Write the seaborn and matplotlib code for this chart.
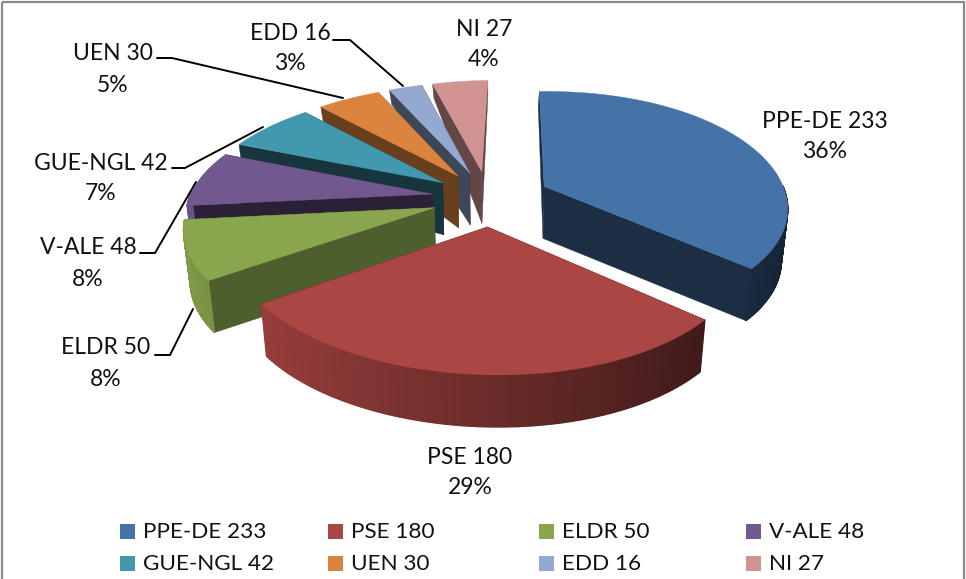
import numpy as np
import matplotlib
matplotlib.use('Agg')
import matplotlib.pyplot as plt
from matplotlib.patches import Rectangle
import seaborn as sns

groups = ['PPE-DE', 'PSE', 'ELDR', 'V-ALE', 'GUE-NGL', 'UEN', 'EDD', 'NI']
seats = [233, 180, 50, 48, 42, 30, 16, 27]
shares = ['36%', '29%', '8%', '8%', '7%', '5%', '3%', '4%']
colors = ['#4572A7', '#AA4643', '#89A54E', '#71588F', '#4198AF', '#DB843D', '#93A9CF', '#D19392']
face_shade = [0.40, 0.42, 0.58, 0.38, 0.35, 0.48, 0.42, 0.48]

sns.set_theme(style='white')
plt.rcParams['font.family'] = ['Lato', 'DejaVu Sans']

# pie geometry, in pixels of the 966x579 picture
cx, cy = 491, 198
R, A = 243, 113.7
k = 0.161      # perspective
bend = 8       # far and near edges sit a bit to the right
explode = 0.245
start = 92


def project(u, v):
    s = 1 / (1 + k * v)
    return cx + R * u * s + bend * v ** 2, cy - A * v * s


def drop(x, y, v):
    # bottom edge of the pie: far side is foreshortened, x pulls toward the middle
    d = np.interp(v, [0.25, 1.1], [52, 14])
    return x + (cx - x) * 0.022, y + d


def shaded(color, f):
    ramp = sns.blend_palette(['#000000', color], 101)
    return ramp[int(np.clip(f, 0, 1) * 100)]


fig, ax = plt.subplots(figsize=(9.66, 5.79), dpi=100)
ax.set_position([0, 0, 1, 1])
ax.set_xlim(0, 966)
ax.set_ylim(579, 0)
ax.axis('off')

ax.add_patch(Rectangle((2, 2), 962, 620, fill=False, ec='#8a8a8a', lw=1.6))

total = sum(seats)
sweeps = np.array(seats) / total * 360
ends = start - np.cumsum(sweeps)
starts = ends + sweeps
mids = np.radians((starts + ends) / 2)

# far slices first so the near ones paint over them
for i in np.argsort(-np.sin(mids)):
    ou, ov = explode * np.cos(mids[i]), explode * np.sin(mids[i])
    t = np.radians(np.linspace(starts[i], ends[i], max(int(sweeps[i] * 2), 8)))
    v = ov + np.sin(t)
    x, y = project(ou + np.cos(t), v)
    xb, yb = drop(x, y, v)
    ax0, ay0 = project(ou, ov)
    bx0, by0 = drop(ax0, ay0, ov)
    c = colors[i]
    dark = shaded(c, face_shade[i])

    # the two straight cut faces
    for j in (0, -1):
        ax.fill([ax0, x[j], xb[j], bx0], [ay0, y[j], yb[j], by0], color=dark, lw=0.3)

    # curved rim on the near side, darker toward the right
    for j in range(len(t) - 1):
        if np.sin(t[j]) > 0 and np.sin(t[j + 1]) > 0:
            continue
        f = 0.62 - 0.32 * np.cos((t[j] + t[j + 1]) / 2)
        ax.fill([x[j], x[j + 1], xb[j + 1], xb[j]], [y[j], y[j + 1], yb[j + 1], yb[j]],
                color=shaded(c, f), lw=1.0)

    ax.fill(np.r_[ax0, x], np.r_[ay0, y], color=c, lw=0.3)

# data labels
label_pos = [(825, 121), (470, 457), (106, 348), (88, 248), (101, 163), (113, 54), (290, 33), (484, 29)]
fs = 16.5
for i, (lx, ly) in enumerate(label_pos):
    ax.text(lx, ly, f'{groups[i]} {seats[i]}', ha='center', va='center', fontsize=fs, color='#111111', zorder=6)
    ax.text(lx, ly + 31, shares[i], ha='center', va='center', fontsize=fs, color='#111111', zorder=6)

# leader lines
leaders = [
    [(155, 355), (170, 355), (193, 309)],
    [(140, 253), (155, 253), (196, 182)],
    [(172, 168), (185, 168), (263, 127)],
    [(157, 58), (172, 58), (343, 98)],
    [(333, 40), (350, 40), (403, 86)],
]
for pts in leaders:
    ax.plot(*zip(*pts), color='black', lw=1.4, zorder=5)

# legend: 4 x 2 grid
col_x = [120, 328, 539, 746]
row_y = [532, 564]
for i, g in enumerate(groups):
    lx, ly = col_x[i % 4], row_y[i // 4]
    ax.add_patch(Rectangle((lx, ly - 8.5), 15, 15, fc=colors[i], ec='none', zorder=6))
    ax.text(lx + 23, ly, f'{g} {seats[i]}', ha='left', va='center', fontsize=16.2, color='#111111', zorder=6)

fig.savefig('out.png', dpi=100)
